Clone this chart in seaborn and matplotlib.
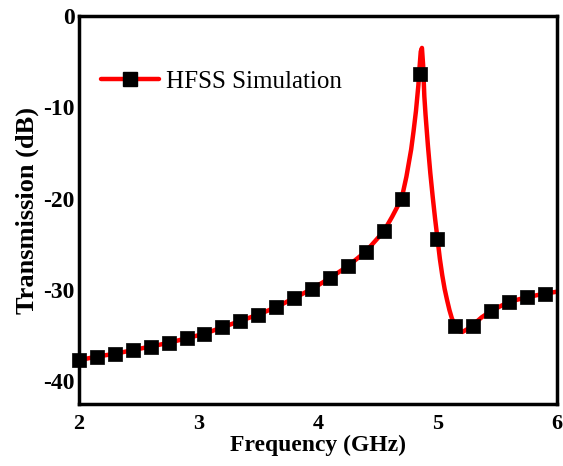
import matplotlib
matplotlib.use("Agg")
import matplotlib.pyplot as plt
import seaborn as sns
import pandas as pd
from matplotlib.lines import Line2D

# Marker samples (GHz, dB)
marker_freq = [2.0, 2.15, 2.3, 2.45, 2.6, 2.75, 2.9, 3.05, 3.2, 3.35, 3.5, 3.65, 3.8,
               3.95, 4.1, 4.25, 4.4, 4.55, 4.7, 4.85, 5.0, 5.15, 5.3, 5.45, 5.6, 5.75, 5.9]
marker_trans = [-37.7, -37.3, -37.0, -36.6, -36.2, -35.8, -35.3, -34.8, -34.1, -33.4, -32.7, -31.9, -30.9,
                -29.9, -28.7, -27.4, -25.8, -23.6, -20.0, -6.3, -24.4, -33.9, -33.9, -32.3, -31.3, -30.8, -30.5]

# Continuous simulated curve
line_freq = [2.0, 2.15, 2.3, 2.45, 2.6, 2.75, 2.9, 3.05, 3.2, 3.35, 3.5, 3.65, 3.8,
             3.95, 4.1, 4.25, 4.4, 4.55, 4.62, 4.7, 4.74, 4.78, 4.8, 4.82, 4.84, 4.85, 4.86, 4.87,
             4.88, 4.89, 4.9, 4.92, 4.94, 4.96, 4.98, 5.0, 5.02, 5.04, 5.06, 5.08, 5.1, 5.12,
             5.15, 5.18, 5.21, 5.25, 5.3, 5.37, 5.45, 5.6, 5.75, 5.9, 6.0]
line_trans = [-37.7, -37.3, -37.0, -36.6, -36.2, -35.8, -35.3, -34.8, -34.1, -33.4, -32.7, -31.9, -30.9,
              -29.9, -28.7, -27.4, -25.8, -23.6, -22.0, -20.0, -17.6, -14.6, -12.6, -10.4, -7.6, -5.6, -3.9, -3.5,
              -5.4, -8.8, -10.8, -14.2, -17.2, -19.8, -22.2, -24.4, -26.6, -28.4, -29.9, -31.1, -32.2, -33.1,
              -34.0, -34.5, -34.6, -34.3, -33.8, -33.0, -32.3, -31.3, -30.8, -30.4, -30.2]

x_ticks = [2, 3, 4, 5, 6]
y_ticks = [0, -10, -20, -30, -40]

sns.set_theme(style="white")
plt.rcParams['font.family'] = ['Liberation Serif', 'DejaVu Serif']
plt.rcParams['text.color'] = 'black'
plt.rcParams['axes.labelcolor'] = 'black'
plt.rcParams['xtick.color'] = 'black'
plt.rcParams['ytick.color'] = 'black'

fig = plt.figure(figsize=(5.63, 4.66), dpi=100)
ax = fig.add_axes([0.1403, 0.133, 0.8490, 0.8327])

line_df = pd.DataFrame({"f": line_freq, "t": line_trans})
mk_df = pd.DataFrame({"f": marker_freq, "t": marker_trans})

sns.lineplot(data=line_df, x="f", y="t", color="#ff0000", lw=3.2, ax=ax, sort=False, zorder=2)
sns.scatterplot(data=mk_df, x="f", y="t", marker="s", s=95, color="black", edgecolor="black",
                linewidth=0.5, ax=ax, zorder=3, clip_on=False)

ax.set_xlim(2, 6)
ax.set_ylim(-42.5, 0)
ax.set_xticks(x_ticks)
ax.set_yticks(y_ticks)
ax.set_xticklabels([str(v) for v in x_ticks], fontweight="bold", fontsize=16, color="black")
ax.set_yticklabels([str(v) for v in y_ticks], fontweight="bold", fontsize=17, color="black")
ax.tick_params(axis="both", direction="in", length=6, width=2.5, colors="black",
               top=False, right=False)
ax.tick_params(axis="y", pad=3)
ax.tick_params(axis="x", pad=7)
for sp in ax.spines.values():
    sp.set_linewidth(2.5)
    sp.set_color("black")

ax.set_xlabel("Frequency (GHz)", fontweight="bold", fontsize=17, labelpad=1, color="black")
ax.set_ylabel("Transmission (dB)", fontweight="bold", fontsize=19, labelpad=3, color="black")

handle = Line2D([0], [0], color="#ff0000", lw=3.2, marker="s", markersize=10,
                markerfacecolor="black", markeredgecolor="black")
leg = ax.legend([handle], ["HFSS Simulation"], loc="center left", frameon=False, fontsize=18,
                bbox_to_anchor=(0.0, 0.83), handlelength=2.3, handletextpad=0.3)
for t in leg.get_texts():
    t.set_color("black")

fig.savefig("out.png", dpi=100)
